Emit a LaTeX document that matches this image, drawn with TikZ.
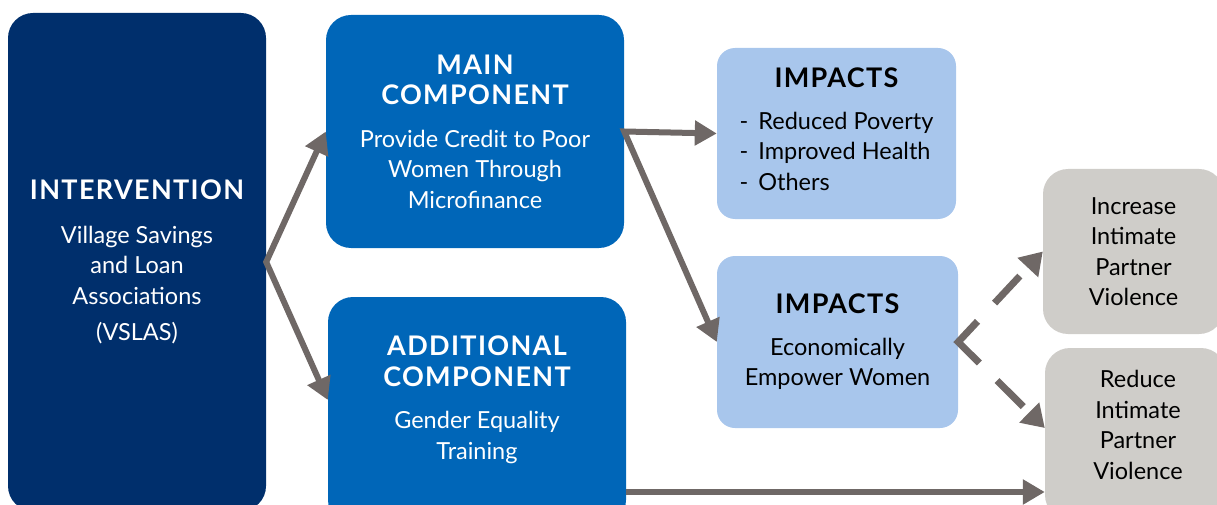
\documentclass[tikz,border=0pt]{standalone}
\usepackage{fontspec}
\setmainfont{Lato}
\newfontfamily\headfont{Lato}[LetterSpace=5]
\usetikzlibrary{arrows.meta}

\definecolor{navy}{RGB}{0,47,108}
\definecolor{midblue}{RGB}{0,102,184}
\definecolor{paleblue}{RGB}{168,198,236}
\definecolor{stone}{RGB}{207,205,201}
\definecolor{arrowgray}{RGB}{111,104,102}

\newcommand\hd[1]{{\headfont\bfseries\fontsize{27}{30}\selectfont #1}}

\begin{document}
\begin{tikzpicture}[x=1pt, y=-1pt]
    \tikzset{>={Triangle[length=22pt,width=24pt]}}
    \tikzset{box/.style={rectangle, rounded corners=25pt, inner sep=0pt, align=center,
        font=\fontsize{23.5}{30.5}\selectfont}}
    \tikzset{arr/.style={->, line width=6pt, draw=arrowgray}}
    \tikzset{dasharr/.style={<->, line width=7pt, draw=arrowgray,
        dash pattern=on 37pt off 25pt on 58pt off 25pt, dash phase=132pt}}

    \useasboundingbox (0,0) rectangle (1217,505);
    \clip (0,0) rectangle (1217,505);

    % left column
    \node[box, fill=navy, text=white, minimum width=258pt, minimum height=498pt] (interv) at (137,262)
        {\hd{INTERVENTION}\\[13pt] Village Savings\\ and Loan\\ Associations\\[6pt] (VSLAS)};

    % components
    \node[box, fill=midblue, text=white, minimum width=298pt, minimum height=233pt] (main) at (475,131.5)
        {\hd{MAIN}\\ \hd{COMPONENT}\\[12pt] Provide Credit to Poor\\ Women Through\\ Microfinance};
    \node[box, fill=midblue, minimum width=298pt, minimum height=228pt] (addl) at (477,411) {};
    \node[box, text=white] (addl-t) at (477,400)
        {\hd{ADDITIONAL}\\ \hd{COMPONENT}\\[12pt] Gender Equality\\ Training};

    % impacts
    \node[box, rounded corners=18pt, fill=paleblue, minimum width=239pt, minimum height=171pt] (imp1) at (836.5,133.5)
        {\hd{IMPACTS}\\[19pt]
         \begin{tabular}{@{}l@{\hspace{10pt}}l@{}}
         - & Reduced Poverty\\
         - & Improved Health\\
         - & Others
         \end{tabular}};
    \node[box, rounded corners=18pt, fill=paleblue, minimum width=241pt, minimum height=172pt] (imp2) at (837.5,342)
        {\hd{IMPACTS}\\[11pt] Economically\\ Empower Women};

    % outcomes
    \node[box, fill=stone, minimum width=181pt, minimum height=165pt] (incr) at (1133.5,251.5)
        {Increase\\ Intimate\\ Partner\\ Violence};
    \node[box, fill=stone, minimum width=181pt, minimum height=172pt] (reduce) at (1135.5,434) {};
    \node[box] (reduce-t) at (1138,425)
        {Reduce\\ Intimate\\ Partner\\ Violence};

    % connectors
    \draw[arr, <->] (main.west) -- (interv.east) -- ([yshift=11pt]addl.west);
    \draw[arr, <->] (imp1.west) -- (main.east) -- (imp2.west);
    \draw[arr] ([yshift=-81pt]addl.east) -- ([yshift=-81pt]addl.east -| reduce.west);
    \draw[dasharr, >={Triangle[length=22pt,width=27pt]}] (incr.west) -- (imp2.east) -- ([yshift=6pt]reduce.west);
\end{tikzpicture}
\end{document}
